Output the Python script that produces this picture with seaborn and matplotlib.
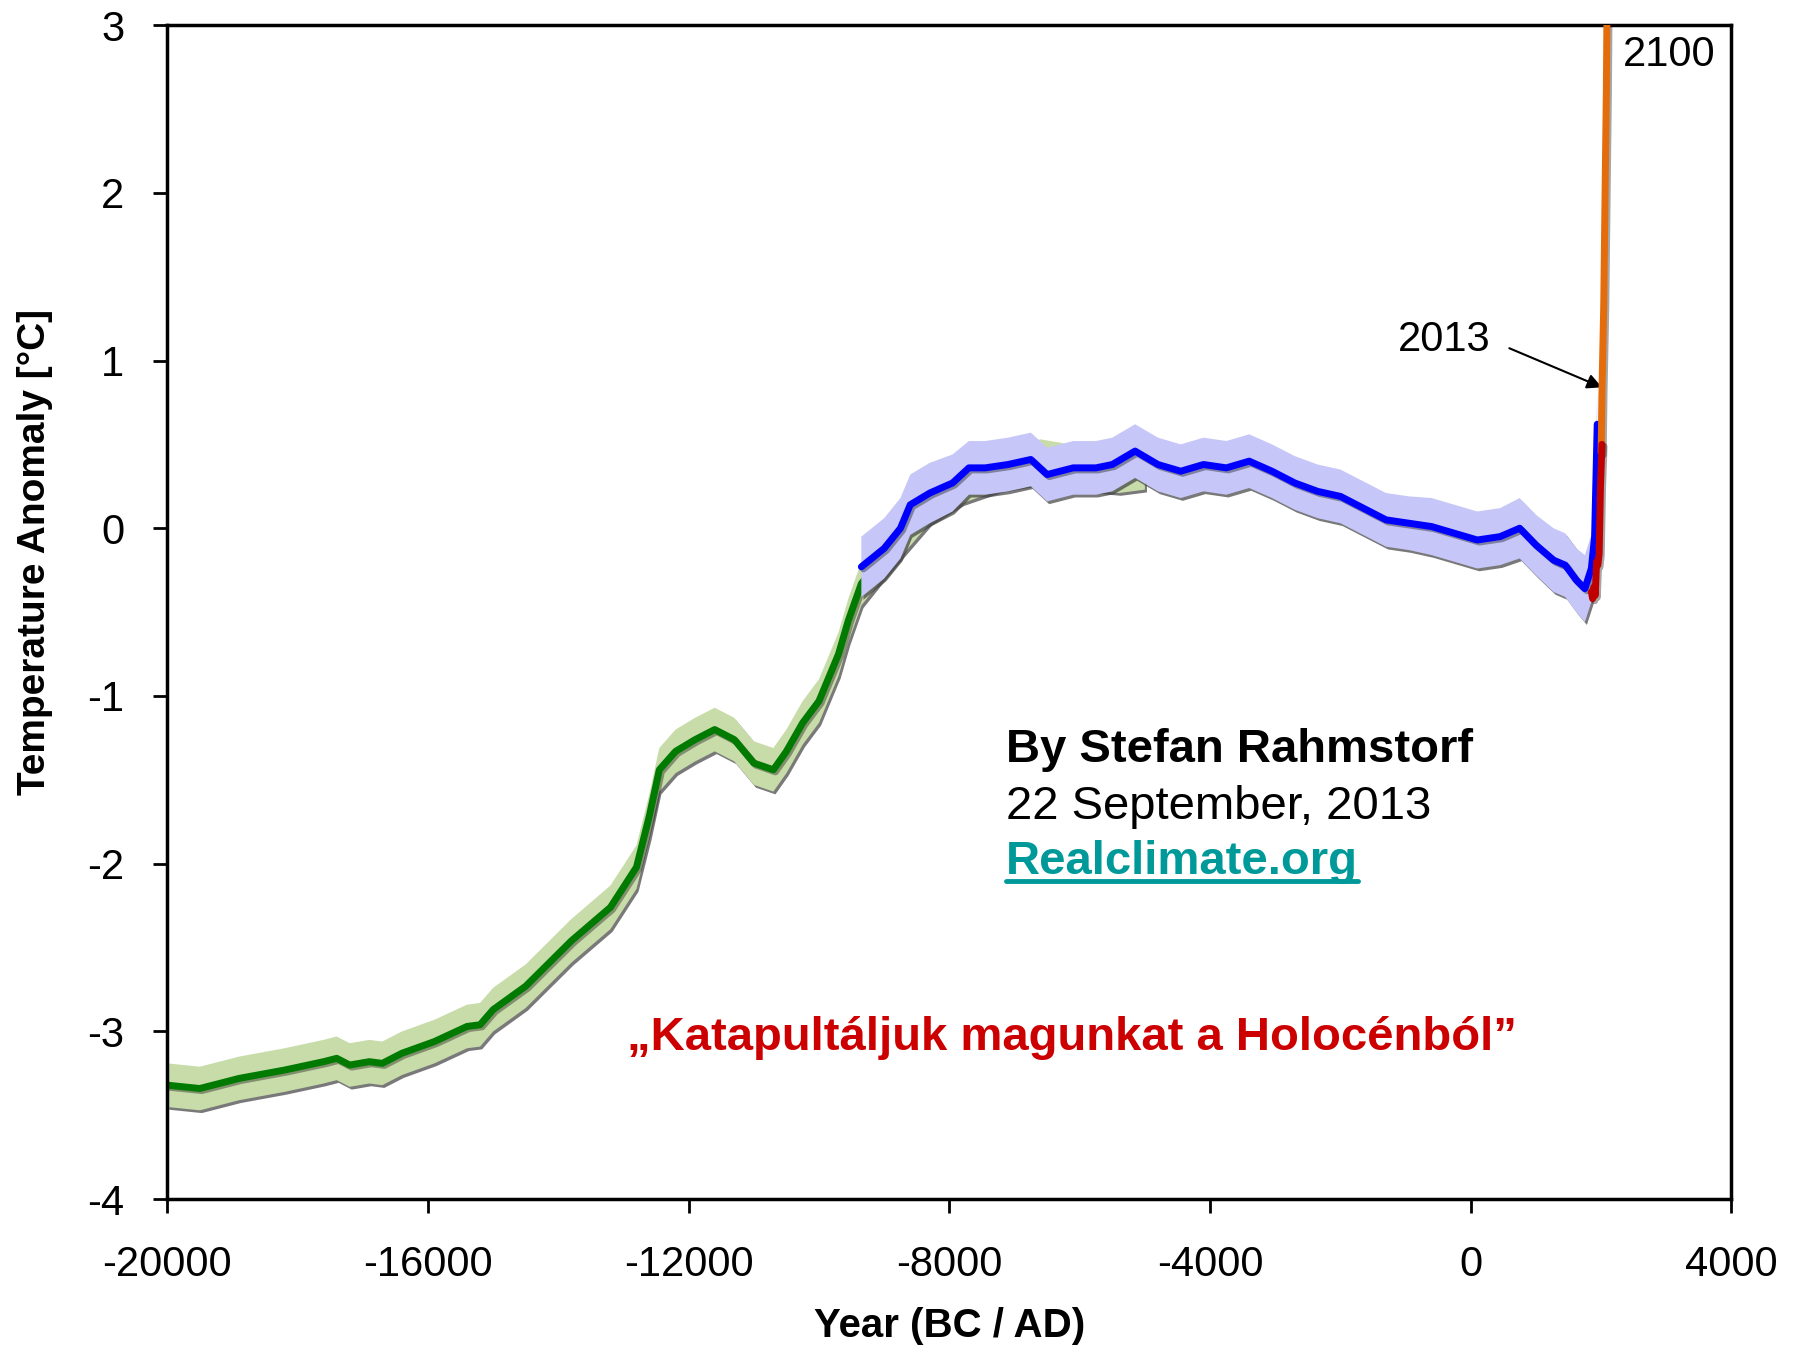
import matplotlib
matplotlib.use('Agg')
import matplotlib.pyplot as plt
import matplotlib.patheffects as pe
from matplotlib.lines import Line2D
from matplotlib.transforms import IdentityTransform
import seaborn as sns

# Deglaciation reconstruction (green), years BC negative
green_year = [-20000, -19500, -18900, -18200, -17600, -17400, -17200, -16900,
              -16700, -16400, -15900, -15400, -15200, -15000, -14500, -13800,
              -13200, -12800, -12600, -12450, -12200, -11900, -11600, -11300,
              -11000, -10700, -10500, -10250, -10000, -9700, -9550, -9350,
              -9000, -8700, -8300, -7800, -7200, -6600, -6000, -5400, -5000]
green_temp = [-3.32, -3.34, -3.28, -3.23, -3.18, -3.16, -3.20, -3.18,
              -3.19, -3.13, -3.06, -2.97, -2.96, -2.87, -2.73, -2.46,
              -2.26, -2.02, -1.71, -1.44, -1.33, -1.26, -1.20, -1.26,
              -1.40, -1.44, -1.33, -1.16, -1.03, -0.75, -0.55, -0.33,
              -0.16, -0.02, 0.16, 0.28, 0.36, 0.40, 0.36, 0.34, 0.36]
green_err = 0.13

# Holocene reconstruction (blue)
blue_year = [-9350, -9000, -8750, -8600, -8300, -7950, -7700, -7450, -7100,
             -6750, -6500, -6100, -5750, -5500, -5150, -4800, -4450, -4100,
             -3750, -3400, -3050, -2700, -2350, -2000, -1650, -1300, -950,
             -600, -250, 100, 450, 750, 1000, 1270, 1450, 1620, 1750, 1850,
             1900, 1940]
blue_temp = [-0.23, -0.12, 0.00, 0.14, 0.21, 0.27, 0.36, 0.36, 0.38,
             0.41, 0.32, 0.36, 0.36, 0.38, 0.46, 0.38, 0.34, 0.38,
             0.36, 0.40, 0.34, 0.27, 0.22, 0.19, 0.12, 0.05, 0.03,
             0.01, -0.03, -0.07, -0.05, 0.00, -0.10, -0.19, -0.22, -0.31,
             -0.36, -0.24, -0.05, 0.62]
blue_err = [0.18, 0.18, 0.18, 0.18, 0.18, 0.17, 0.16, 0.16, 0.16,
            0.16, 0.16, 0.16, 0.16, 0.16, 0.16, 0.16, 0.16, 0.16,
            0.16, 0.16, 0.16, 0.16, 0.16, 0.16, 0.16, 0.16, 0.16,
            0.17, 0.17, 0.17, 0.17, 0.18, 0.18, 0.19, 0.19, 0.19,
            0.20, 0.20, 0.20, 0.20]

# Instrumental record (red)
red_year = [1850, 1870, 1890, 1910, 1930, 1950, 1970, 1990, 2013]
red_temp = [-0.38, -0.42, -0.35, -0.40, -0.20, -0.22, -0.15, 0.25, 0.50]

# Projection to 2100 (orange)
orange_year = [2000, 2013, 2040, 2060, 2080, 2100]
orange_temp = [0.45, 0.82, 1.33, 1.98, 2.60, 3.60]

x_ticks = [-20000, -16000, -12000, -8000, -4000, 0, 4000]
y_ticks = [-4, -3, -2, -1, 0, 1, 2, 3]

GREEN, GREEN_BAND = '#007a00', '#c8dcaa'
BLUE, BLUE_BAND = '#0000ff', '#c6c6f8'
RED, ORANGE, TEAL = '#c00000', '#e46c0a', '#009999'


def main():
    sns.set_style('ticks')
    plt.rcParams['font.family'] = ['Liberation Sans', 'DejaVu Sans']
    plt.rcParams['axes.unicode_minus'] = False
    plt.rcParams['text.color'] = 'black'
    plt.rcParams['axes.labelcolor'] = 'black'

    fig, ax = plt.subplots(figsize=(17.98, 13.52), dpi=100)
    fig.subplots_adjust(left=0.093, right=0.963, top=0.9815, bottom=0.113)

    band_fx = [pe.SimplePatchShadow(offset=(1.5, -2), shadow_rgbFace='0.25',
                                    alpha=0.7), pe.Normal()]
    line_fx = [pe.SimpleLineShadow(offset=(1.5, -1.5), shadow_color='k',
                                   alpha=0.35), pe.Normal()]

    # uncertainty bands
    g_lo = [t - green_err for t in green_temp]
    g_hi = [t + green_err for t in green_temp]
    gb = ax.fill_between(green_year, g_lo, g_hi, color=GREEN_BAND, lw=0,
                         zorder=1)
    gb.set_path_effects(band_fx)
    b_lo = [t - e for t, e in zip(blue_temp, blue_err)]
    b_hi = [t + e for t, e in zip(blue_temp, blue_err)]
    bb = ax.fill_between(blue_year, b_lo, b_hi, color=BLUE_BAND, lw=0,
                         zorder=3)
    bb.set_path_effects(band_fx)

    # curves
    sns.lineplot(x=green_year, y=green_temp, color=GREEN, lw=5, ax=ax,
                 zorder=2, path_effects=line_fx)
    sns.lineplot(x=blue_year, y=blue_temp, color=BLUE, lw=5, ax=ax,
                 zorder=4, path_effects=line_fx)
    sns.lineplot(x=orange_year, y=orange_temp, color=ORANGE, lw=5, ax=ax,
                 zorder=5, path_effects=line_fx)
    sns.lineplot(x=red_year, y=red_temp, color=RED, lw=5, ax=ax,
                 zorder=6, path_effects=line_fx)

    ax.set_xlim(-20000, 4000)
    ax.set_ylim(-4, 3)
    ax.set_xticks(x_ticks)
    ax.set_yticks(y_ticks)
    ax.set_xticklabels([str(v) for v in x_ticks])
    ax.set_yticklabels([str(v) for v in y_ticks])
    ax.tick_params(axis='both', direction='out', length=10, width=2,
                   labelsize=30, color='k', labelcolor='k')
    ax.tick_params(axis='x', pad=23)
    ax.tick_params(axis='y', pad=21)
    for side in ['left', 'right', 'top', 'bottom']:
        ax.spines[side].set_visible(True)
        ax.spines[side].set_linewidth(2.5)
        ax.spines[side].set_color('k')

    ax.set_ylabel('Temperature Anomaly [°C]', fontsize=28, fontweight='bold')
    ax.yaxis.set_label_coords(-0.073, 0.551)
    ax.set_xlabel('Year (BC / AD)', fontsize=29, fontweight='bold')
    ax.xaxis.set_label_coords(0.5, -0.092)

    # annotations
    ax.annotate('2013', xy=(2013, 0.84), xytext=(306, 1.12), fontsize=30,
                ha='right', va='center',
                arrowprops=dict(arrowstyle='-|>', color='k', lw=1.5,
                                mutation_scale=22, relpos=(1, 0.5),
                                shrinkA=12, shrinkB=0))
    ax.text(2330, 2.82, '2100', fontsize=30, ha='left', va='center')

    tx = -7137
    ax.text(tx, -1.394, 'By Stefan Rahmstorf', fontsize=34,
            fontweight='bold', va='baseline')
    ax.text(tx, -1.736, '22 September, 2013', fontsize=34, va='baseline')
    link = ax.text(tx, -2.064, 'Realclimate.org', fontsize=34,
                   fontweight='bold', color=TEAL, va='baseline')
    ax.text(-12944, -3.11, '\u201eKatapultáljuk magunkat a Holocénból\u201d',
            fontsize=34, fontweight='bold', color='#cc0000', va='baseline')

    # underline the link text
    fig.canvas.draw()
    ext = link.get_window_extent()
    base_px = ax.transData.transform((tx, -2.064))[1]
    fig.add_artist(Line2D([ext.x0, ext.x1], [base_px - 7, base_px - 7],
                          transform=IdentityTransform(), color=TEAL, lw=3.5))

    fig.savefig('out.png', dpi=100)


if __name__ == '__main__':
    main()
